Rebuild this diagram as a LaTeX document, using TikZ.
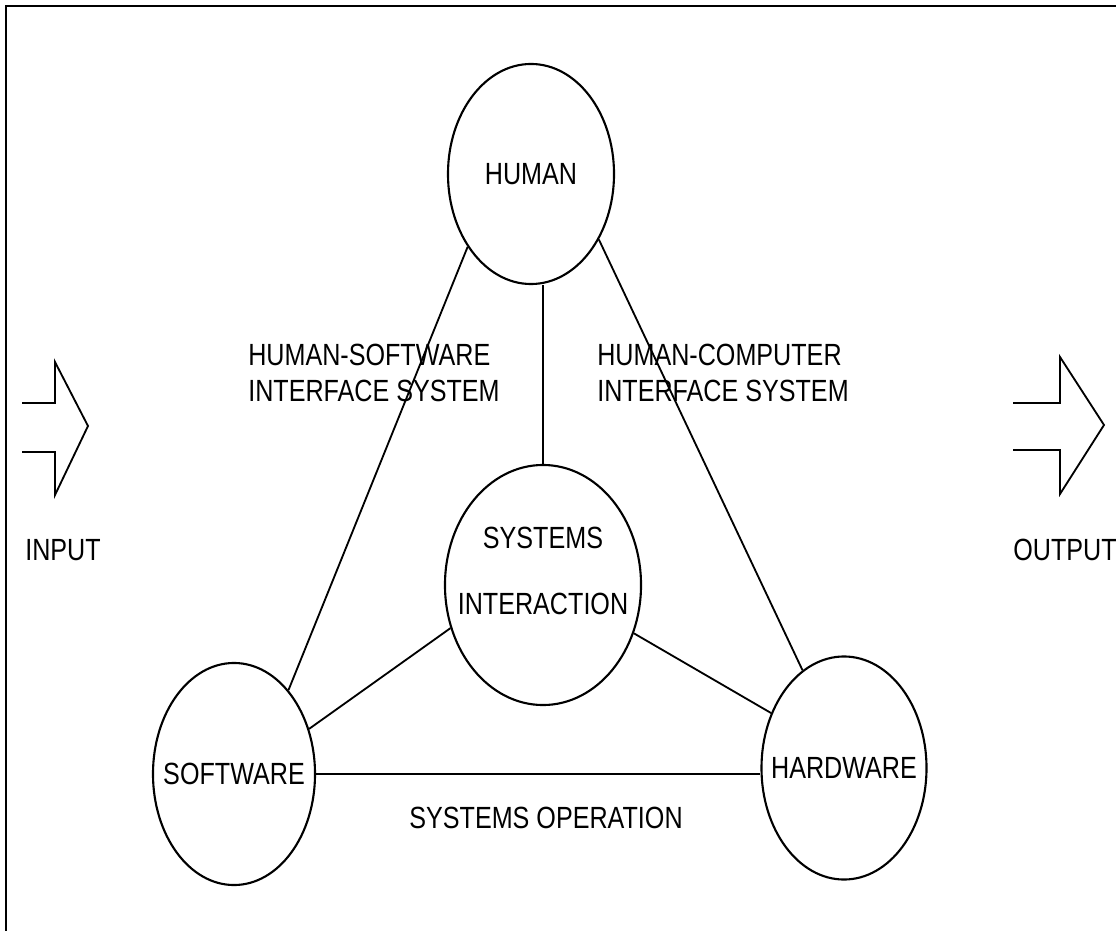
\documentclass[tikz,border=0pt]{standalone}
\usepackage{fontspec}
\setmainfont[FakeStretch=0.82]{Liberation Sans}
\usepackage{tikz}
\usetikzlibrary{shapes.geometric}

\begin{document}
\begin{tikzpicture}[x=0.025cm, y=-0.025cm,
    every node/.style={font=\fontsize{21.8}{26}\selectfont, inner sep=0pt},
    every label/.style={font=\fontsize{21.8}{26}\selectfont, inner sep=0pt},
    part/.style={ellipse, draw, line width=1.5pt},
    link/.style={line width=1.3pt},
    tag/.style={align=left, anchor=west}]
    \useasboundingbox (0,0) rectangle (1116,931);

    % frame
    \draw [line width=2pt] (6,931) -- (6,6) -- (1116,6);

    % the four parts of the system
    \node (human)    [part, minimum width=4.15cm, minimum height=5.5cm, label=center:HUMAN] at (531,174) {};
    \node (systems)  [part, minimum width=4.9cm,  minimum height=6.0cm,
        label={[align=center, yshift=10pt]center:{SYSTEMS\\[21pt]INTERACTION}}] at (543,585) {};
    \node (software) [part, minimum width=4.05cm, minimum height=5.55cm, label=center:SOFTWARE] at (234,774) {};
    \node (hardware) [part, minimum width=4.125cm, minimum height=5.575cm, label=center:HARDWARE] at (844,768) {};

    \draw [link] (human.229) -- (software.57);
    \draw [link] (human.316) -- (hardware.113);
    \draw [link] (human.south -| systems.north) -- (systems.north);
    \draw [link] (systems.205) -- (software.31);
    \draw [link] (systems.332) -- (hardware.143);
    \draw [link] (software.east) -- (software.east -| hardware.west);

    \node (hsi) [tag] at (248,373) {HUMAN-SOFTWARE\\INTERFACE SYSTEM};
    \node (hci) [tag] at (597,373) {HUMAN-COMPUTER\\INTERFACE SYSTEM};
    \node (ops) at (546,818) {SYSTEMS OPERATION};

    % input and output arrows
    \draw [link] (22,403) -- (55,403) -- (55,362) -- (88,426) -- (55,495) -- (55,452) -- (22,452);
    \draw [link] (1013,403) -- (1060,403) -- (1060,357) -- (1104,425) -- (1060,494) -- (1060,450) -- (1013,450);
    \node (in)  [anchor=west] at (25,550) {INPUT};
    \node (out) [anchor=west] at (1013,550) {OUTPUT};
\end{tikzpicture}
\end{document}
